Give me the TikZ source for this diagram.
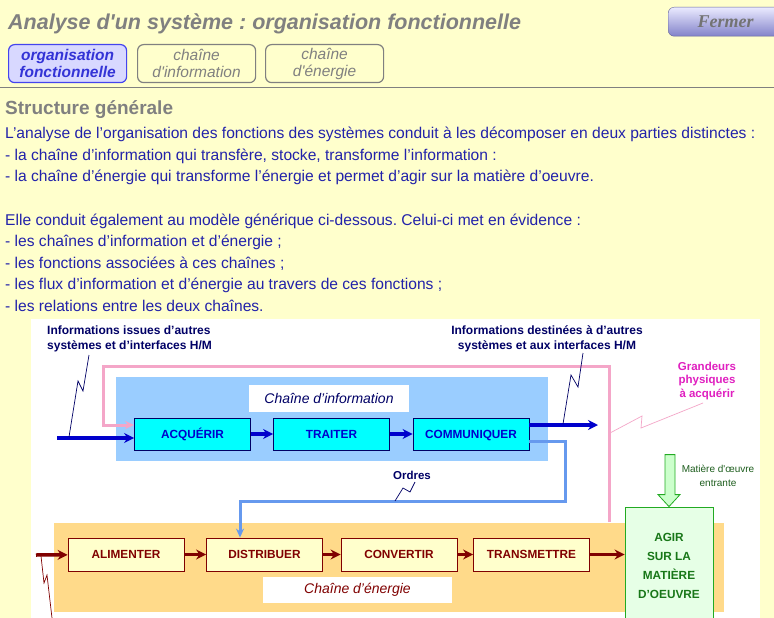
\documentclass[tikz,border=0pt]{standalone}
\usepackage{fontspec}
\setmainfont{Liberation Sans}[Ligatures=TeXOff]
\newfontfamily\btnfont{Liberation Serif}[Ligatures=TeXOff]
\usetikzlibrary{positioning,calc,arrows.meta}
\frenchspacing

\definecolor{fondjaune}{HTML}{FFFFCC}
\definecolor{grisfonce}{HTML}{808080}
\definecolor{bleutexte}{HTML}{2222AA}
\definecolor{bleunuit}{HTML}{000066}
\definecolor{bleuinfo}{HTML}{0000CC}
\definecolor{cyaninfo}{HTML}{00FFFF}
\definecolor{zoneinfo}{HTML}{9ACDFF}
\definecolor{zoneener}{HTML}{FFDA8A}
\definecolor{rougeener}{HTML}{800000}
\definecolor{roseacq}{HTML}{F4A6C8}
\definecolor{magentagr}{HTML}{E020C0}
\definecolor{bleuordres}{HTML}{6699EE}
\definecolor{vertagir}{HTML}{22AA22}
\definecolor{vertpale}{HTML}{E6FFE6}
\definecolor{vertfleche}{HTML}{CCFFCC}
\definecolor{vertnuit}{HTML}{1E5E1E}
\definecolor{ongletbleu}{HTML}{4444EE}
\definecolor{ongletfond}{HTML}{D8D8FF}

\begin{document}
\begin{tikzpicture}[x=1pt,y=-1pt,
  every node/.style={inner sep=0pt},
  fct/.style={draw, line width=0.8pt, minimum width=116pt, minimum height=32pt,
    text height=8.6pt, text depth=0pt, font=\fontsize{11.8}{13}\selectfont\bfseries},
  fctinfo/.style={fct, fill=cyaninfo, draw=bleunuit, text=bleuinfo},
  fctener/.style={fct, fill=fondjaune, draw=rougeener, text=rougeener, minimum height=33pt},
  titrechaine/.style={fill=white, font=\fontsize{14}{16}\selectfont\itshape},
  flecheinfo/.style={line width=3.5pt, draw=bleuinfo, -{Stealth[length=10pt,width=10pt]}},
  flecheener/.style={line width=3.5pt, draw=rougeener, -{Stealth[length=10pt,width=10pt]}},
  liaison/.style={line width=0.7pt},
  onglet/.style={draw=grisfonce, rounded corners=6pt, line width=1.2pt, minimum width=118pt,
    minimum height=38pt, align=center, text=grisfonce, font=\fontsize{15.5}{17}\selectfont\itshape},
  etiquette/.style={align=center, text=bleunuit, font=\fontsize{12}{15}\selectfont\bfseries}
]

\useasboundingbox (0,0) rectangle (774,618);
\fill[fondjaune] (0,0) rectangle (774,618);

% en-tete
\node[anchor=base west, text=grisfonce, font=\fontsize{21.5}{24}\selectfont\bfseries\itshape] (titre) at (8,30)
  {Analyse d'un système : organisation fonctionnelle};
\node[anchor=north west, draw=grisfonce!80!blue, rounded corners=6pt, top color=blue!8, bottom color=blue!40!gray!70,
  minimum width=115pt, minimum height=29pt, text=grisfonce!90!black,
  font=\btnfont\fontsize{18}{20}\selectfont\bfseries\itshape] (fermer) at (668,7) {Fermer};

\node[onglet, anchor=north west, draw=ongletbleu, fill=ongletfond, text=bleuinfo!80!white,
  font=\fontsize{15.5}{17}\selectfont\bfseries\itshape] (orgfct) at (8,44)
  {organisation\\fonctionnelle};
\node[onglet, anchor=north west] (chinfo) at (137,44) {chaîne\\d'information};
\node[onglet, anchor=north west] (chener) at (265,44) {chaîne\\d'énergie};

\draw[grisfonce, line width=1pt] (0,88) -- (774,88);

\node[anchor=base west, text=grisfonce, font=\fontsize{19}{22}\selectfont\bfseries] (struct) at (5,114)
  {Structure générale};

\node[anchor=north west, align=left, text=bleutexte, font=\fontsize{15.6}{21.6}\selectfont] (corps) at (5,127)
  {L’analyse de l’organisation des fonctions des systèmes conduit à les décomposer en deux parties distinctes :\\
   - la chaîne d’information qui transfère, stocke, transforme l’information :\\
   - la chaîne d’énergie qui transforme l’énergie et permet d’agir sur la matière d’oeuvre.\\[21.6pt]
   Elle conduit également au modèle générique ci-dessous. Celui-ci met en évidence :\\
   - les chaînes d’information et d’énergie ;\\
   - les fonctions associées à ces chaînes ;\\
   - les flux d’information et d’énergie au travers de ces fonctions ;\\
   - les relations entre les deux chaînes.};

% schema
\fill[white] (31,319) rectangle (760,618);

\node[fill=zoneinfo, minimum width=432pt, minimum height=84pt] (zinfo) at (332,419) {};
\node[fill=zoneener, minimum width=670pt, minimum height=89pt] (zener) at (389,567.5) {};

\node[titrechaine, text=bleunuit, minimum width=160pt, minimum height=27pt] (tinfo) at (329,398) {Chaîne d’information};
\node[titrechaine, text=rougeener, minimum width=189pt, minimum height=26pt] (tener) at (357.5,590) {Chaîne d’énergie};

\node[fctinfo] (acq) at (192.5,434) {ACQUÉRIR};
\node[fctinfo] (trait) at (331.5,434) {TRAITER};
\node[fctinfo] (comm) at (471,434) {COMMUNIQUER};

\node[fctener] (alim) at (126,554.5) {ALIMENTER};
\node[fctener] (distr) at (264.5,554.5) {DISTRIBUER};
\node[fctener] (conv) at (399,554.5) {CONVERTIR};
\node[fctener] (trans) at (531.5,554.5) {TRANSMETTRE};

\node[draw=vertagir, fill=vertpale, line width=0.8pt, minimum width=88pt, minimum height=118pt, align=center,
  text=vertagir!70!black, font=\fontsize{11.8}{19}\selectfont\bfseries] (agir) at (669,566)
  {AGIR\\SUR LA\\MATIÈRE\\D’OEUVRE};

% etiquettes
\node[etiquette, align=left, anchor=north west] (lblentree) at (47,326)
  {Informations issues d’autres\\systèmes et d’interfaces H/M};
\node[etiquette] (lblsortie) at (547,339)
  {Informations destinées à d’autres\\systèmes et aux interfaces H/M};
\node[etiquette, text=magentagr, font=\fontsize{11.5}{13.5}\selectfont\bfseries] (lblgrand) at (707,381)
  {Grandeurs\\physiques\\à acquérir};
\node[etiquette, font=\fontsize{11.5}{13}\selectfont\bfseries] (lblordres) at (412,475) {Ordres};
\node[align=center, text=vertnuit, font=\fontsize{10}{14}\selectfont] (lblmatiere) at (718,476)
  {Matière d'œuvre\\entrante};

% chaine d'information
\coordinate (infoin) at (57,438);
\coordinate (infoout) at (598,425);
\draw[flecheinfo] (infoin) -- (infoin -| acq.west);
\draw[flecheinfo] (acq) -- (trait);
\draw[flecheinfo] (trait) -- (comm);
\draw[flecheinfo] (infoout -| comm.east) -- (infoout);

% grandeurs physiques
\coordinate (rosebas) at (609,522);
\coordinate (rosecoin) at (103,366);
\draw[roseacq, line width=3pt, -{Stealth[length=9pt,width=8pt]}]
  (rosebas) |- (rosecoin) |- ($(acq.west)+(0,-9)$);

% ordres
\coordinate (ordresD) at (565,501);
\coordinate (ordresG) at (240,501);
\draw[bleuordres, line width=3pt, -{Stealth[length=9pt,width=8pt]}]
  ($(comm.east)+(0,7)$) -| (ordresD) -- (ordresG) -- (ordresG |- distr.north);

% chaine d'energie
\coordinate (enerin) at (36,555);
\draw[flecheener] (enerin) -- (alim);
\draw[flecheener] (alim) -- (distr);
\draw[flecheener] (distr) -- (conv);
\draw[flecheener] (conv) -- (trans);
\draw[flecheener] (trans) -- (agir.west |- trans);

% matiere d'oeuvre entrante
\draw[vertagir, fill=vertfleche, line width=0.8pt]
  (agir.north) ++(-4,-12) -- ++(0,-40) -- ++(10,0) -- ++(0,40) -- ++(5,0)
  -- (agir.north) -- ++(-11,-12) -- cycle;

% liaisons des etiquettes
\draw[liaison, bleunuit] (69,437) -- ++(9,-56) -- ++(5,10) -- ++(6,-36);
\draw[liaison, bleunuit] (563,424) -- ++(8,-49) -- ++(7,12) -- ++(5,-34);
\draw[liaison, roseacq] (610,433) -- ++(32,-17) -- ++(-1,12) -- ++(62,-25);
\draw[liaison, bleunuit] (395,501) -- ++(8,-13) -- ++(7,4) -- ++(5,-10);
\draw[liaison, rougeener] (41,556) -- ++(3,27) -- ++(3,-8) -- ++(5,43);

\end{tikzpicture}
\end{document}
